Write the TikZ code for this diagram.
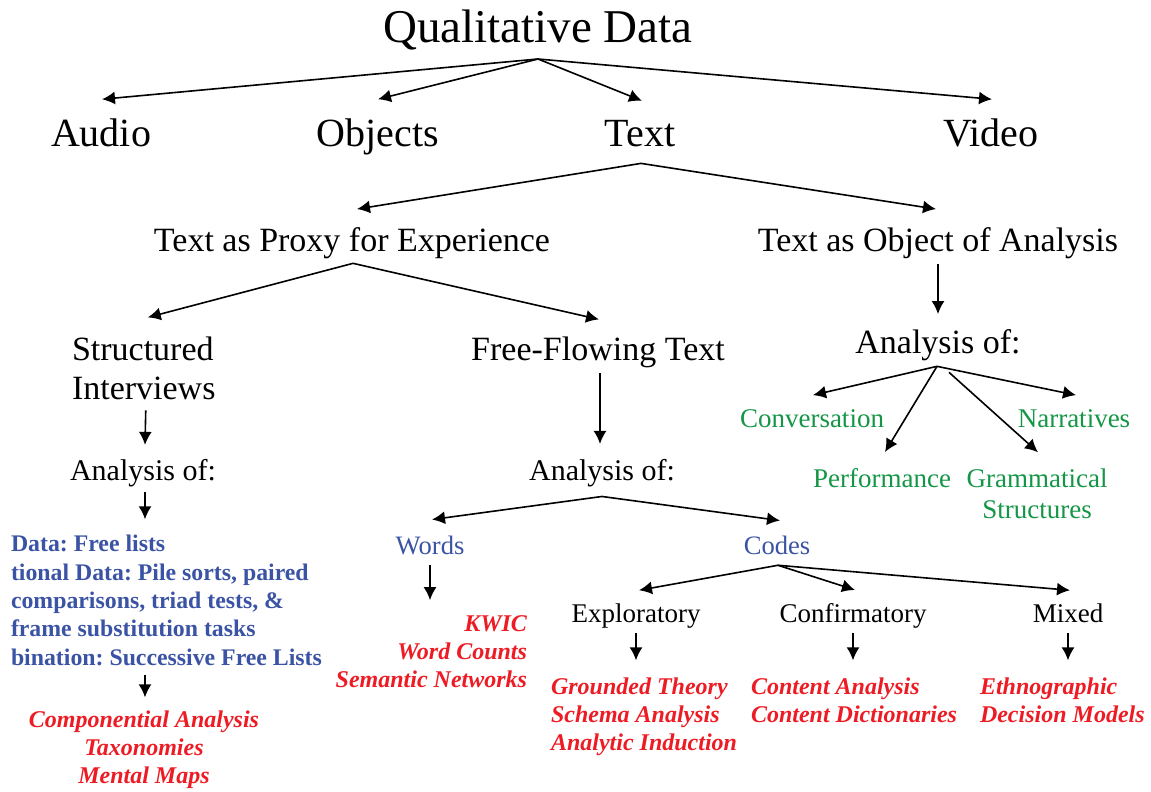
\documentclass[tikz,border=0pt]{standalone}
\usepackage{fontspec}
\setmainfont{Liberation Serif}
\usetikzlibrary{arrows.meta,calc}
\definecolor{qblue}{RGB}{59,83,164}
\definecolor{qred}{RGB}{237,28,36}
\definecolor{qgreen}{RGB}{20,150,70}
\newcommand{\fsz}[2]{\fontsize{#1}{#2}\selectfont}
\frenchspacing
\begin{document}
\begin{tikzpicture}[x=0.5pt,y=-0.5pt,
    every node/.style={inner sep=0pt,outer sep=0pt,anchor=base},
    arr/.style={-{Latex[length=6.5pt,width=6.5pt]},line width=0.8pt},
    lvlA/.style={font=\fsz{23.5pt}{28pt}},
    lvlB/.style={font=\fsz{20pt}{24pt}},
    lvlC/.style={font=\fsz{17pt}{19.5pt}},
    lvlD/.style={font=\fsz{15pt}{18pt}},
    grn/.style={font=\fsz{13.5pt}{15.5pt},text=qgreen,align=center},
    blu/.style={font=\fsz{13.3pt}{15pt},text=qblue},
    bluebf/.style={font=\fsz{11.9pt}{14.15pt}\bfseries,text=qblue,align=left},
    blk/.style={font=\fsz{13.5pt}{15pt}},
    rd/.style={font=\fsz{12pt}{14pt}\bfseries\itshape,text=qred}]
\useasboundingbox (0,0) rectangle (1151,792);
% top
\node[lvlA] (qd) at (538,43) {Qualitative Data};
\node[lvlB] (audio) at (101,147) {Audio};
\node[lvlB] (objects) at (378,147) {Objects};
\node[lvlB] (text) at (640,147) {Text};
\node[lvlB] (video) at (991,147) {Video};
\coordinate (qd-fork) at (538,59);
\draw[arr] (qd-fork) -- ($(audio.north)+(1,-20)$);
\draw[arr] (qd-fork) -- ($(objects.north)+(0,-20)$);
\draw[arr] (qd-fork) -- ($(text.north)+(2,-20)$);
\draw[arr] (qd-fork) -- ($(video.north)+(1,-20)$);
% text
\node[lvlC] (proxy) at (352,251) {Text as Proxy for Experience};
\node[lvlC] (toa) at (938,251) {Text as Object of Analysis};
\coordinate (text-fork) at ($(text.south)+(1,16)$);
\draw[arr] (text-fork) -- ($(proxy.north)+(5,-18)$);
\draw[arr] (text-fork) -- ($(toa.north)+(-2,-18)$);
% proxy
\node[lvlC,anchor=base west,align=left] (struct) at (72,399) {Structured\\Interviews};
\node[lvlC] (free) at (598,360) {Free-Flowing Text};
\coordinate (proxy-fork) at ($(proxy.south)+(1,5)$);
\draw[arr] (proxy-fork) -- ($(struct.north)+(4,-19)$);
\draw[arr] (proxy-fork) -- ($(free.north)+(1,-17)$);
% object of analysis
\node[lvlC] (ar) at (938,353) {Analysis of:};
\draw[arr] ($(toa.south)+(0,6)$) -- ($(ar.north)+(0,-15)$);
\node[grn] (conv) at (812,427) {Conversation};
\node[grn] (narr) at (1074,427) {Narratives};
\node[grn] (perf) at (882,487) {Performance};
\node[grn] (gram) at (1037,518) {Grammatical\\Structures};
\coordinate (ar-fork) at ($(ar.south)+(-1,6)$);
\coordinate (ar-fork2) at ($(ar.south)+(11,12)$);
\draw[arr] (ar-fork) -- ($(conv.north)+(1,-14)$);
\draw[arr] (ar-fork) -- ($(narr.north)+(2,-14)$);
\draw[arr] (ar-fork) -- ($(perf.north)+(3,-16)$);
\draw[arr] (ar-fork2) -- ($(gram.north)+(1,-16)$);
% structured interviews
\node[lvlD] (la) at (143,480) {Analysis of:};
\draw[arr] ($(struct.south)+(2,11)$) -- ($(la.north)+(2,-14)$);
\node[bluebf,anchor=base west] (list) at (11,665) {Data: Free lists\\tional Data: Pile sorts, paired\\comparisons, triad tests, \&\\frame substitution tasks\\bination: Successive Free Lists};
\draw[arr] ($(la.south)+(2,6)$) -- ($(la.south |- list.north)+(2,-16)$);
\node[rd,align=center] (redl) at (144,783) {Componential Analysis\\Taxonomies\\Mental Maps};
\draw[arr] ($(redl.north |- list.south)+(1,10)$) -- ($(redl.north)+(1,-13)$);
% free-flowing text
\node[lvlD] (ma) at (602,480) {Analysis of:};
\draw[arr] ($(free.south)+(2,6)$) -- ($(free.south |- ma.north)+(2,-15)$);
\node[blu] (words) at (430,554) {Words};
\node[blu] (codes) at (777,554) {Codes};
\coordinate (ma-fork) at ($(ma.south)+(0,10)$);
\draw[arr] (ma-fork) -- ($(words.north)+(2,-16)$);
\draw[arr] (ma-fork) -- ($(codes.north)+(3,-15)$);
\node[rd,anchor=base east,align=right] (redm) at (527,687) {KWIC\\Word Counts\\Semantic Networks};
\draw[arr] ($(words.south)+(0,11)$) -- ($(words.south |- redm.north)+(0,-15)$);
% codes
\node[blk] (expl) at (636,622) {Exploratory};
\node[blk] (conf) at (853,622) {Confirmatory};
\node[blk] (mixed) at (1068,622) {Mixed};
\coordinate (codes-fork) at ($(codes.south)+(1,11)$);
\draw[arr] (codes-fork) -- ($(expl.north)+(3,-13)$);
\draw[arr] (codes-fork) -- ($(conf.north)+(2,-13)$);
\draw[arr] (codes-fork) -- ($(mixed.north)+(2,-13)$);
\node[rd,anchor=base west,align=left] (redg) at (551,750) {Grounded Theory\\Schema Analysis\\Analytic Induction};
\node[rd,anchor=base west,align=left] (redc) at (751,722) {Content Analysis\\Content Dictionaries};
\node[rd,anchor=base west,align=left] (rede) at (980,722) {Ethnographic\\Decision Models};
\draw[arr] ($(expl.south)+(0,5)$) -- ($(expl.south |- redg.north)+(0,-17)$);
\draw[arr] ($(conf.south)+(0,5)$) -- ($(conf.south |- redc.north)+(0,-17)$);
\draw[arr] ($(mixed.south)+(0,11)$) -- ($(mixed.south |- rede.north)+(0,-17)$);
\end{tikzpicture}
\end{document}
